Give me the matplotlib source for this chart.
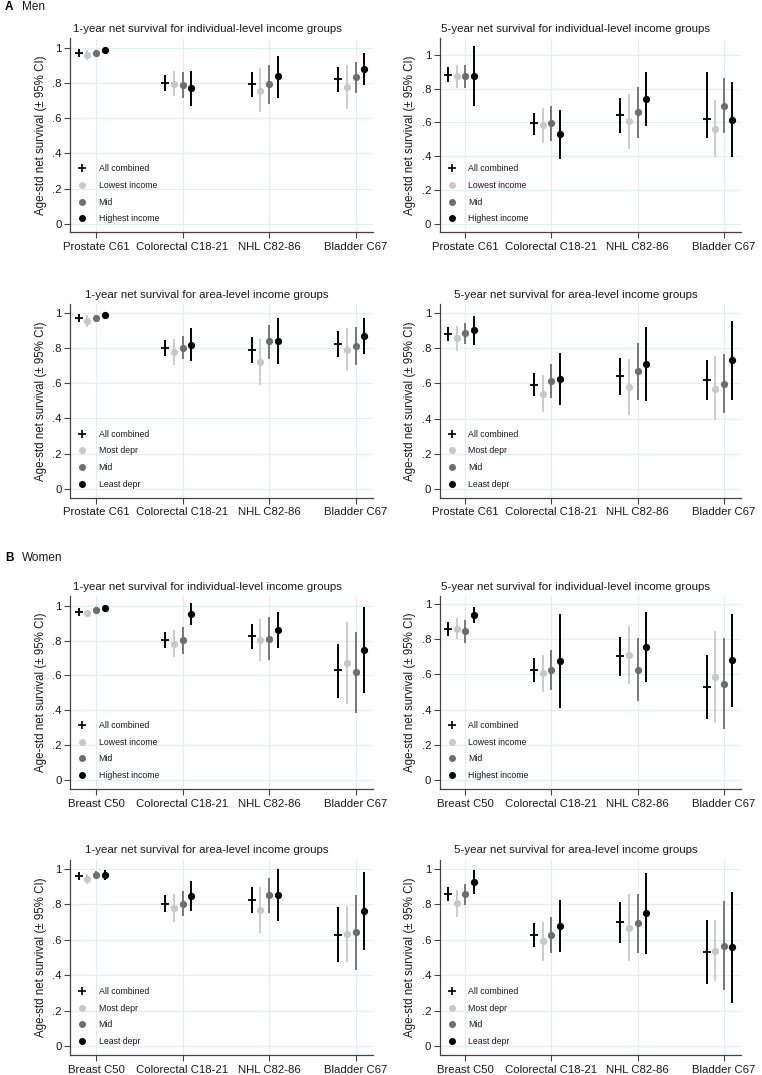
import matplotlib
matplotlib.use("Agg")
import matplotlib.pyplot as plt
from matplotlib.lines import Line2D
from matplotlib.ticker import FuncFormatter

plt.rcParams['font.family'] = ['Liberation Sans', 'DejaVu Sans']

men_sites = ["Prostate C61", "Colorectal C18-21", "NHL C82-86", "Bladder C67"]
women_sites = ["Breast C50", "Colorectal C18-21", "NHL C82-86", "Bladder C67"]
indiv_groups = ["All combined", "Lowest income", "Mid", "Highest income"]
area_groups = ["All combined", "Most depr", "Mid", "Least depr"]
yticks = [0, 0.2, 0.4, 0.6, 0.8, 1.0]

# rows = groups (All combined, lowest/most depr, mid, highest/least depr); cols = sites
men_1y_ind_est = [[0.972, 0.799, 0.792, 0.822], [0.962, 0.797, 0.756, 0.777],
                  [0.973, 0.790, 0.794, 0.833], [0.989, 0.769, 0.837, 0.881]]
men_1y_ind_lo = [[0.958, 0.756, 0.718, 0.750], [0.930, 0.725, 0.634, 0.652],
                 [0.958, 0.714, 0.678, 0.742], [0.977, 0.672, 0.716, 0.790]]
men_1y_ind_hi = [[0.985, 0.843, 0.864, 0.890], [0.990, 0.867, 0.883, 0.903],
                 [0.988, 0.862, 0.903, 0.920], [0.999, 0.867, 0.953, 0.972]]

men_5y_ind_est = [[0.881, 0.594, 0.642, 0.620], [0.873, 0.584, 0.610, 0.562],
                  [0.873, 0.594, 0.659, 0.700], [0.873, 0.533, 0.741, 0.616]]
men_5y_ind_lo = [[0.840, 0.527, 0.537, 0.507], [0.804, 0.479, 0.444, 0.394],
                 [0.804, 0.489, 0.509, 0.540], [0.695, 0.382, 0.580, 0.394]]
men_5y_ind_hi = [[0.927, 0.657, 0.743, 0.899], [0.941, 0.685, 0.768, 0.730],
                 [0.941, 0.695, 0.810, 0.863], [1.051, 0.675, 0.901, 0.840]]

men_1y_area_est = [[0.970, 0.798, 0.791, 0.821], [0.952, 0.779, 0.722, 0.791],
                   [0.968, 0.802, 0.838, 0.812], [0.989, 0.817, 0.838, 0.871]]
men_1y_area_lo = [[0.955, 0.755, 0.717, 0.749], [0.920, 0.705, 0.591, 0.669],
                  [0.951, 0.736, 0.736, 0.705], [0.974, 0.724, 0.707, 0.768]]
men_1y_area_hi = [[0.985, 0.844, 0.865, 0.894], [0.987, 0.854, 0.854, 0.914],
                  [0.985, 0.869, 0.933, 0.918], [1.000, 0.913, 0.968, 0.973]]

men_5y_area_est = [[0.883, 0.592, 0.640, 0.621], [0.858, 0.540, 0.581, 0.570],
                   [0.885, 0.615, 0.670, 0.598], [0.902, 0.625, 0.709, 0.730]]
men_5y_area_lo = [[0.842, 0.528, 0.534, 0.506], [0.785, 0.436, 0.419, 0.389],
                  [0.823, 0.519, 0.506, 0.430], [0.817, 0.477, 0.498, 0.506]]
men_5y_area_hi = [[0.923, 0.657, 0.743, 0.734], [0.928, 0.645, 0.740, 0.753],
                  [0.945, 0.711, 0.832, 0.764], [0.985, 0.772, 0.921, 0.953]]

women_1y_ind_est = [[0.962, 0.802, 0.824, 0.630], [0.956, 0.781, 0.802, 0.670],
                    [0.973, 0.802, 0.811, 0.618], [0.987, 0.952, 0.861, 0.744]]
women_1y_ind_lo = [[0.945, 0.756, 0.750, 0.473], [0.935, 0.704, 0.683, 0.435],
                   [0.954, 0.723, 0.689, 0.384], [0.976, 0.891, 0.756, 0.498]]
women_1y_ind_hi = [[0.979, 0.849, 0.897, 0.781], [0.977, 0.859, 0.922, 0.905],
                   [0.992, 0.878, 0.933, 0.849], [0.998, 1.013, 0.964, 0.990]]

women_5y_ind_est = [[0.857, 0.625, 0.702, 0.528], [0.858, 0.606, 0.708, 0.587],
                    [0.847, 0.625, 0.626, 0.545], [0.938, 0.677, 0.757, 0.681]]
women_5y_ind_lo = [[0.817, 0.555, 0.589, 0.345], [0.800, 0.500, 0.543, 0.326],
                   [0.781, 0.513, 0.449, 0.289], [0.889, 0.411, 0.557, 0.415]]
women_5y_ind_hi = [[0.896, 0.696, 0.815, 0.709], [0.919, 0.711, 0.874, 0.847],
                   [0.908, 0.736, 0.804, 0.804], [0.985, 0.945, 0.955, 0.945]]

women_1y_area_est = [[0.960, 0.802, 0.823, 0.629], [0.945, 0.780, 0.768, 0.635],
                     [0.964, 0.804, 0.851, 0.644], [0.968, 0.847, 0.853, 0.763]]
women_1y_area_lo = [[0.945, 0.755, 0.750, 0.475], [0.917, 0.699, 0.637, 0.476],
                    [0.942, 0.734, 0.751, 0.429], [0.938, 0.765, 0.704, 0.544]]
women_1y_area_hi = [[0.975, 0.850, 0.898, 0.783], [0.970, 0.857, 0.898, 0.791],
                    [0.987, 0.874, 0.947, 0.853], [0.996, 0.930, 0.998, 0.981]]

women_5y_area_est = [[0.859, 0.627, 0.701, 0.529], [0.806, 0.593, 0.669, 0.539],
                     [0.857, 0.629, 0.693, 0.567], [0.925, 0.678, 0.750, 0.559]]
women_5y_area_lo = [[0.821, 0.557, 0.584, 0.348], [0.731, 0.480, 0.482, 0.365],
                    [0.797, 0.525, 0.525, 0.316], [0.857, 0.531, 0.520, 0.241]]
women_5y_area_hi = [[0.896, 0.695, 0.815, 0.710], [0.881, 0.701, 0.857, 0.710],
                    [0.913, 0.731, 0.859, 0.819], [0.994, 0.825, 0.977, 0.872]]

W, H = 762, 1075
fig = plt.figure(figsize=(W / 100, H / 100), dpi=100)

GRID = '#e4edef'
SPINE = '#444444'
TXT = '#1a1a1a'
offsets = [-0.2, -0.1, 0.0, 0.1]
colors = ['black', '#c8c8c8', '#6e6e6e', 'black']
lws = [1.4, 1.3, 1.3, 1.4]

cols_px = [(70, 373), (439.5, 741)]
rows_px = [(38.5, 232.3), (304, 497.7), (596, 789), (860, 1055)]

panels = [
    (0, 0, "1-year net survival for individual-level income groups", men_sites, indiv_groups,
     men_1y_ind_est, men_1y_ind_lo, men_1y_ind_hi, (-0.049, 1.053)),
    (0, 1, "5-year net survival for individual-level income groups", men_sites, indiv_groups,
     men_5y_ind_est, men_5y_ind_lo, men_5y_ind_hi, (-0.051, 1.097)),
    (1, 0, "1-year net survival for area-level income groups", men_sites, area_groups,
     men_1y_area_est, men_1y_area_lo, men_1y_area_hi, (-0.05, 1.05)),
    (1, 1, "5-year net survival for area-level income groups", men_sites, area_groups,
     men_5y_area_est, men_5y_area_lo, men_5y_area_hi, (-0.05, 1.051)),
    (2, 0, "1-year net survival for individual-level income groups", women_sites, indiv_groups,
     women_1y_ind_est, women_1y_ind_lo, women_1y_ind_hi, (-0.05, 1.055)),
    (2, 1, "5-year net survival for individual-level income groups", women_sites, indiv_groups,
     women_5y_ind_est, women_5y_ind_lo, women_5y_ind_hi, (-0.05, 1.045)),
    (3, 0, "1-year net survival for area-level income groups", women_sites, area_groups,
     women_1y_area_est, women_1y_area_lo, women_1y_area_hi, (-0.05, 1.05)),
    (3, 1, "5-year net survival for area-level income groups", women_sites, area_groups,
     women_5y_area_est, women_5y_area_lo, women_5y_area_hi, (-0.05, 1.05)),
]

for r, c, title, sites, groups, est, lo, hi, ylim in panels:
    x0, x1 = cols_px[c]
    t, b = rows_px[r]
    ax = fig.add_axes([x0 / W, 1 - b / H, (x1 - x0) / W, (b - t) / H])
    ax.set_xlim(-0.3, 3.2)
    ax.set_ylim(*ylim)
    ax.set_xticks(range(len(sites)))
    ax.set_xticklabels(sites)
    ax.set_yticks(yticks)
    ax.yaxis.set_major_formatter(FuncFormatter(
        lambda v, p: '0' if abs(v) < 1e-9 else ('1' if abs(v - 1) < 1e-9 else ('%.1f' % v).lstrip('0'))))
    ax.grid(True, color=GRID, lw=0.9, zorder=0)
    ax.set_axisbelow(True)
    for s in ['top', 'right']:
        ax.spines[s].set_visible(False)
    for s in ['left', 'bottom']:
        ax.spines[s].set_color(SPINE)
        ax.spines[s].set_linewidth(0.9)
    ax.tick_params(axis='both', direction='out', length=4, width=0.8, color=SPINE,
                   labelsize=8.2, labelcolor=TXT, pad=2)
    ax.tick_params(axis='x', pad=3)
    ax.set_ylabel("Age-std net survival (\u00b1 95% CI)", fontsize=8.3, color=TXT)
    ax.yaxis.set_label_coords(-23 / (x1 - x0), 0.5)
    ax.text(0.452, 1 + 9.5 / (b - t), title, transform=ax.transAxes, ha='center', va='center',
            fontsize=8.25, color=TXT)

    for g in range(4):
        xs = [i + offsets[g] for i in range(len(sites))]
        e = est[g]
        yerr = [[e[i] - lo[g][i] for i in range(len(sites))],
                [hi[g][i] - e[i] for i in range(len(sites))]]
        ax.errorbar(xs, e, yerr=yerr, fmt='none', ecolor=colors[g], elinewidth=lws[g],
                    capsize=0, zorder=3)
        if g == 0:
            ax.plot(xs, e, ls='none', marker='+', ms=5.8, mew=1.3, color='black', zorder=4)
        else:
            ax.plot(xs, e, ls='none', marker='o', ms=4.2, color=colors[g], mec=colors[g], zorder=4)

    handles = [Line2D([], [], ls='none', marker='+', ms=5.5, mew=1.2, color='black')]
    for g in range(1, 4):
        handles.append(Line2D([], [], ls='none', marker='o', ms=4, color=colors[g]))
    ax.legend(handles, groups, loc='lower left', bbox_to_anchor=(0.005, 0.014), frameon=False,
              fontsize=6.3, labelspacing=0.88, handlelength=1.0, handletextpad=1.4,
              borderpad=0.2, labelcolor=TXT)

fig.text(5 / W, 1 - 7.5 / H, "A", fontsize=8.5, fontweight='bold', va='center', ha='left', color='black')
fig.text(22 / W, 1 - 7.5 / H, "Men", fontsize=8.5, va='center', ha='left', color=TXT)
fig.text(5 / W, 1 - 558 / H, "B", fontsize=8.5, fontweight='bold', va='center', ha='left', color='black')
fig.text(22 / W, 1 - 558 / H, "Women", fontsize=8.5, va='center', ha='left', color=TXT)

fig.savefig("out.png", dpi=100, facecolor='white')
